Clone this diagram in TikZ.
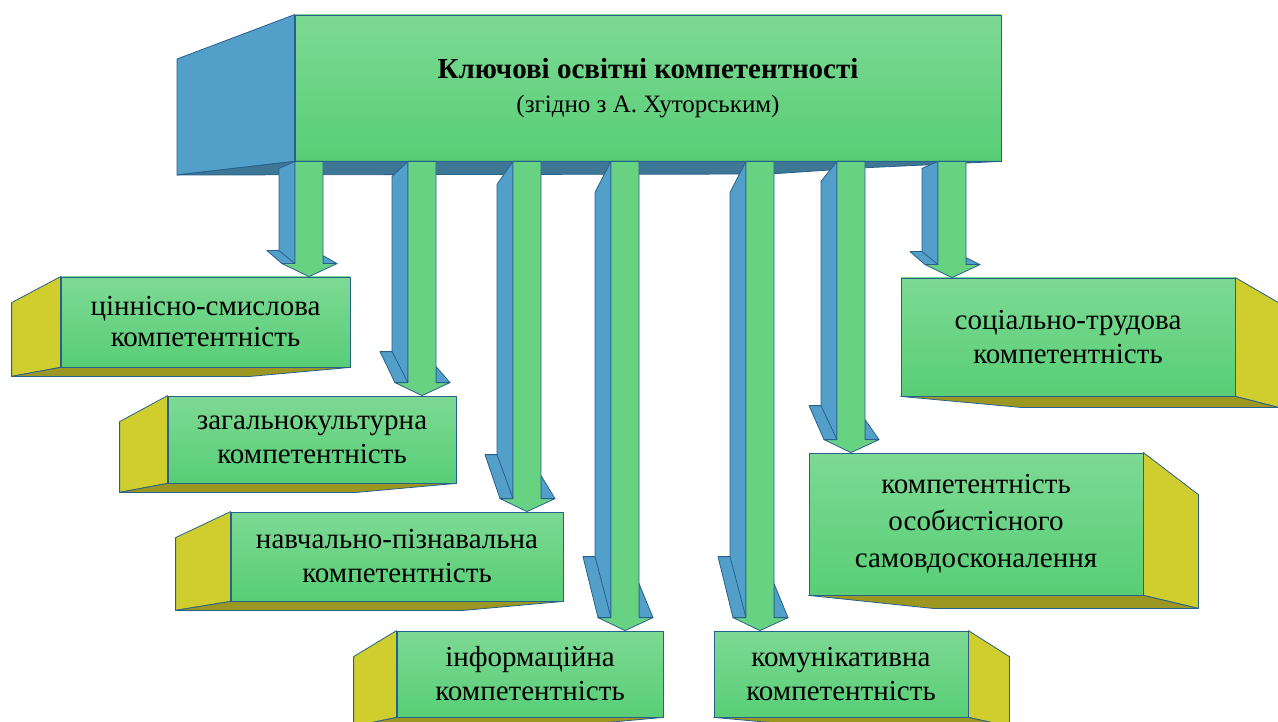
\documentclass[tikz,border=0pt]{standalone}
\usepackage{fontspec}
\setmainfont{Liberation Serif}
\usetikzlibrary{calc}
\definecolor{gtop}{RGB}{125,217,148}
\definecolor{gbot}{RGB}{88,206,118}
\definecolor{garr}{RGB}{104,210,131}
\definecolor{garrl}{RGB}{120,216,146}
\definecolor{bside}{RGB}{82,160,201}
\definecolor{bdark}{RGB}{62,119,150}
\definecolor{yside}{RGB}{207,206,46}
\definecolor{ybot}{RGB}{156,150,34}
\definecolor{rimc}{RGB}{40,96,140}

% block arrow from the header down to a box
\newcommand\comparrow[5]{%
  \coordinate (at) at (#1,0 |- kc.south);
  \coordinate (ab) at (#1,0 |- #2.north);
  \draw[bface] ($(at)+(-14,0)$) -- ($(at)+(-30,#3)$) -- ($(ab)+(-30,-13-#4)$)
     -- ($(ab)+(-42,-13-#4)$) -- ($(ab)+(-27,-13)$) -- ($(ab)+(-14,-13)$) -- cycle;
  \draw[rim] ($(ab)+(-30,-13-#4)$) -- ($(ab)+(-14,-13)$);
  \draw[bface] ($(ab)+(14,-13-#5)$) -- ($(ab)+(28,-13)$) -- ($(ab)+(14,-13)$) -- cycle;
  \draw[aface] ($(at)+(-14,0)$) -- ($(ab)+(-14,-13)$) -- ($(ab)+(-27,-13)$) -- (ab)
     -- ($(ab)+(28,-13)$) -- ($(ab)+(14,-13)$) -- ($(at)+(14,0)$) -- cycle;
}
% side and bottom faces of a box
\newcommand\leftside[4]{%
  \draw[yface] (#1.north west) -- ++(-#2,#3) -- ($(#1.south west)+(-#2,#4)$) -- (#1.south west) -- cycle;
  \draw[oface] ($(#1.south west)+(-#2,#4)$) -- (#1.south west) -- (#1.south east)
     -- ($(#1.south east)+(-100,#4)$) -- cycle;
}
\newcommand\rightside[5]{%
  \draw[yface] (#1.north east) -- ++(#2,#3) -- ($(#1.south east)+(#2,#4)$) -- (#1.south east) -- cycle;
  \draw[oface] (#1.south west) -- (#1.south east) -- ($(#1.south east)+(#2,#4)$)
     -- ($(#1.south west)+(#5,#4)$) -- cycle;
}

\begin{document}
\begin{tikzpicture}[x=1pt,y=-1pt,
  rim/.style={draw=rimc, line width=0.8pt, line join=round},
  cbox/.style={rim, top color=gtop, bottom color=gbot, inner sep=0pt,
               align=center, font=\fontsize{29}{34}\selectfont},
  bface/.style={rim, fill=bside},
  dface/.style={rim, fill=bdark},
  yface/.style={rim, fill=yside},
  oface/.style={rim, fill=ybot},
  aface/.style={rim, left color=garr, middle color=garrl, right color=garr}]
\useasboundingbox (0,0) rectangle (1278,722);

\node[cbox, minimum width=706pt, minimum height=146pt] (kc) at (648,88)
  {{\fontsize{29}{30}\selectfont\bfseries Ключові освітні компетентності}\\
   {\fontsize{25}{30}\selectfont (згідно з А. Хуторським)}};
\draw[bface] (kc.north west) -- (177,59) -- (177,175) -- (kc.south west) -- cycle;
\draw[dface] (177,175) -- (kc.south west) -- (kc.south east) -- (860,168) -- (770,174) -- cycle;

\node[cbox, minimum width=289pt, minimum height=90pt, font=\fontsize{29}{31}\selectfont] (cs) at (205.5,322)
  {ціннісно-смислова\\компетентність};
\node[cbox, minimum width=288pt, minimum height=87pt] (zk) at (312,439.5)
  {загальнокультурна\\компетентність};
\node[cbox, minimum width=332pt, minimum height=89pt] (np) at (397,556.5)
  {навчально-пізнавальна\\компетентність};
\node[cbox, minimum width=266pt, minimum height=86pt] (inf) at (530,674)
  {інформаційна\\компетентність};
\node[cbox, minimum width=254pt, minimum height=86pt] (kom) at (841,674)
  {комунікативна\\компетентність};
\node[cbox, minimum width=334pt, minimum height=118pt] (st) at (1068,337)
  {соціально-трудова\\компетентність};
\node[cbox, minimum width=334pt, minimum height=142pt, font=\fontsize{29}{37}\selectfont] (os) at (976,524)
  {компетентність\\особистісного\\самовдосконалення};

\leftside{cs}{49}{26}{9}
\leftside{zk}{48}{26}{9}
\leftside{np}{55}{26}{9}
\leftside{inf}{43}{26}{9}
\rightside{kom}{41}{26}{9}{100}
\rightside{st}{43}{25}{11}{120}
\rightside{os}{55}{42}{13}{124}

\comparrow{309}{cs}{7}{13}{8}
\comparrow{422}{zk}{15}{31}{16}
\comparrow{527}{np}{23}{44}{23}
\comparrow{625}{inf}{31}{61}{34}
\comparrow{760}{kom}{31}{61}{34}
\comparrow{851}{os}{20}{34}{20}
\comparrow{952}{st}{7}{13}{7}
\end{tikzpicture}
\end{document}
